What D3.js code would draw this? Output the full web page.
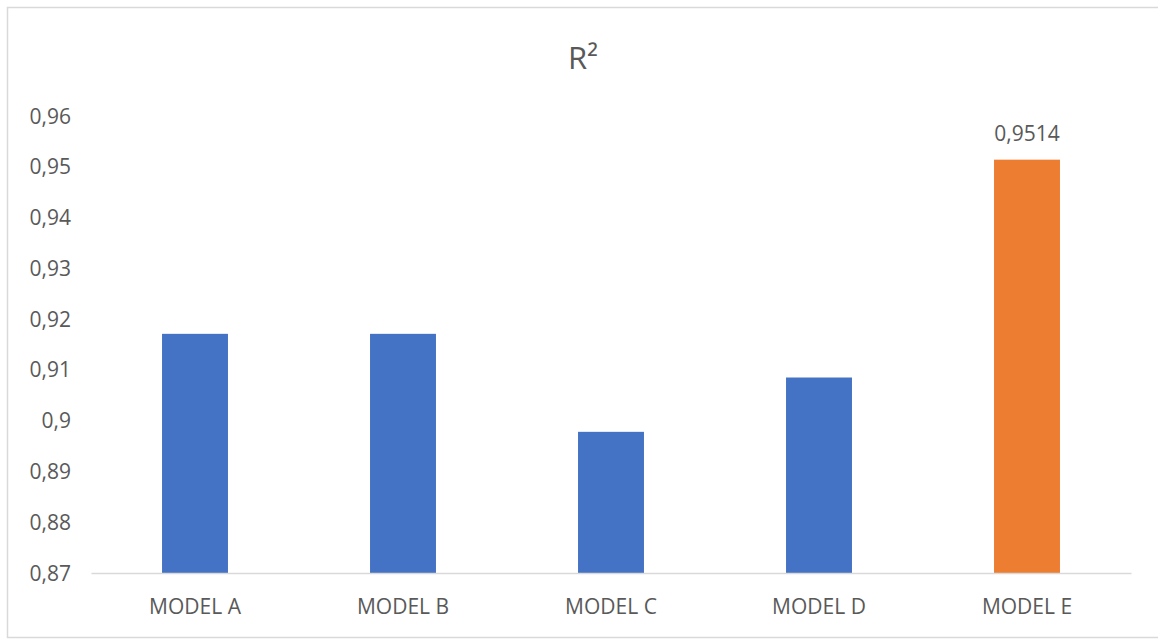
<!DOCTYPE html>
<html>
<head>
<meta charset="utf-8">
<script src="https://cdn.jsdelivr.net/npm/d3@7"></script>
<style>
  body { margin: 0; background: #fff; }
  svg text { font-family: "Open Sans", "Liberation Sans", sans-serif; fill: #595959; }
</style>
</head>
<body>
<svg id="chart" width="1158" height="640"></svg>
<script>
// data
var categories = ["MODEL A", "MODEL B", "MODEL C", "MODEL D", "MODEL E"];
var r2Values = [0.9171, 0.9171, 0.8978, 0.9085, 0.9514];
var yTicks = [0.87, 0.88, 0.89, 0.9, 0.91, 0.92, 0.93, 0.94, 0.95, 0.96];
var labelled = ["MODEL E"];

var svg = d3.select("#chart");

// outer frame
svg.append("rect")
    .attr("x", 7.5).attr("y", 7.5)
    .attr("width", 1160).attr("height", 630)
    .attr("fill", "none")
    .attr("stroke", "#d9d9d9")
    .attr("stroke-width", 1.5);

var x = d3.scaleBand()
    .domain(categories)
    .range([91, 1131])
    .paddingInner(0.683)
    .paddingOuter(0.3415);

var y = d3.scaleLinear()
    .domain([0.87, 0.96])
    .range([573, 116]);

var fmt = function (v) { return String(+v.toFixed(4)).replace(".", ","); };

// title
svg.append("text")
    .attr("x", 583).attr("y", 69)
    .attr("text-anchor", "middle")
    .style("font-size", "31px")
    .text("R²");

// y axis labels (no axis line, no gridlines)
svg.append("g")
    .selectAll("text")
    .data(yTicks)
    .enter().append("text")
    .attr("x", 71)
    .attr("y", function (d) { return y(d); })
    .attr("dy", "0.36em")
    .attr("text-anchor", "end")
    .style("font-size", "21px")
    .text(fmt);

// bars
svg.append("g")
    .selectAll("rect")
    .data(categories)
    .enter().append("rect")
    .attr("x", function (d) { return x(d); })
    .attr("width", x.bandwidth())
    .attr("y", function (d, i) { return y(r2Values[i]); })
    .attr("height", function (d, i) { return y(0.87) - y(r2Values[i]); })
    .attr("fill", function (d) { return d === "MODEL E" ? "#ed7d31" : "#4472c4"; });

// value label on highlighted bar
svg.append("g")
    .selectAll("text")
    .data(categories.filter(function (d) { return labelled.indexOf(d) >= 0; }))
    .enter().append("text")
    .attr("x", function (d) { return x(d) + x.bandwidth() / 2; })
    .attr("y", function (d) { return y(r2Values[categories.indexOf(d)]) - 19; })
    .attr("text-anchor", "middle")
    .style("font-size", "21px")
    .text(function (d) { return fmt(r2Values[categories.indexOf(d)]); });

// x axis
var xAxis = svg.append("g")
    .attr("transform", "translate(0,573)")
    .call(d3.axisBottom(x).tickSize(0).tickPadding(26));
xAxis.select(".domain").attr("stroke", "#d9d9d9").attr("stroke-width", 1.5);
xAxis.selectAll("text")
    .style("font-size", "21px")
    .style("font-family", "'Open Sans', 'Liberation Sans', sans-serif")
    .attr("fill", "#595959");
</script>
</body>
</html>
